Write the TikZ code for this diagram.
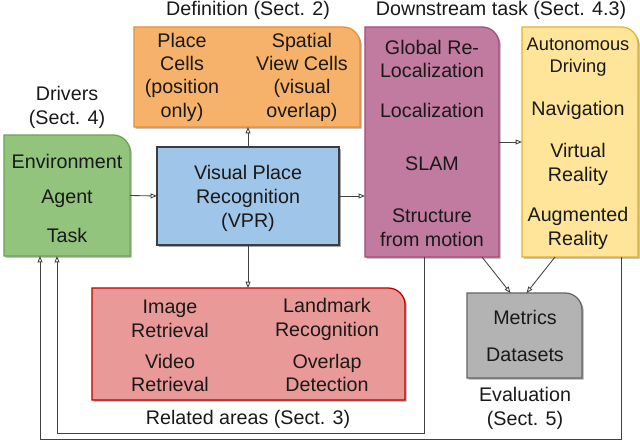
\documentclass[tikz,border=0pt]{standalone}
\usepackage{fontspec}
\setmainfont{Liberation Sans}
\usetikzlibrary{calc}
\usetikzlibrary{arrows.meta}
\usetikzlibrary{backgrounds}
\tikzset{>=latex}
\definecolor{drvfill}{HTML}{93C47D}
\definecolor{drvline}{HTML}{6AA84F}
\definecolor{vprfill}{HTML}{9FC5E8}
\definecolor{vprline}{HTML}{3C3C3C}
\definecolor{deffill}{HTML}{F6B26B}
\definecolor{defline}{HTML}{E69138}
\definecolor{taskfill}{HTML}{C27BA0}
\definecolor{taskline}{HTML}{A64D79}
\definecolor{appfill}{HTML}{FFE599}
\definecolor{appline}{HTML}{E1B530}
\definecolor{relfill}{HTML}{EA9999}
\definecolor{relline}{HTML}{C00000}
\definecolor{evalfill}{HTML}{B3B3B3}
\definecolor{evalline}{HTML}{666666}
\tikzstyle{area}=[inner sep=0,outer sep=0]
\tikzstyle{txt}=[align=center,inner sep=0,text=black!90,
                 font=\fontsize{14}{17}\selectfont]
\tikzstyle{small txt}=[txt,font=\fontsize{13}{15.8}\selectfont]
\tikzstyle{link}=[-{Triangle[open,length=4.5pt,width=3.5pt]},draw=black!75,line width=0.6]
% box with one round corner (top right)
\newcommand{\tabshape}[1]{(#1.south west) -- (#1.north west) -- ($(#1.north east)+(-12pt,0)$)
  arc[start angle=90,end angle=0,radius=12pt] -- (#1.south east) -- cycle}

\begin{document}
\begin{tikzpicture}[x=0.025cm,y=-0.025cm]

  \useasboundingbox (0,0) rectangle (640,440);

  % BOXES
  \node[area,minimum width=3.15cm,minimum height=3.025cm] (drivers) at (67,195.5) {};
  \node[area,minimum width=4.55cm,minimum height=2.45cm] (vpr) at (248,196) {};
  \node[area,minimum width=5.65cm,minimum height=2.5cm] (def) at (247,77) {};
  \node[area,minimum width=3.35cm,minimum height=5.75cm] (task) at (432,142) {};
  \node[area,minimum width=2.9cm,minimum height=5.75cm] (app) at (580,142) {};
  \node[area,minimum width=7.825cm,minimum height=2.8cm] (rel) at (248.5,344) {};
  \node[area,minimum width=2.875cm,minimum height=2.125cm] (eval) at (524.5,335.5) {};

  \begin{scope}[on background layer]
    \foreach \b/\fc/\dc in {drivers/drvfill/drvline,def/deffill/defline,
        task/taskfill/taskline,app/appfill/appline,rel/relfill/relline,
        eval/evalfill/evalline}{
      \fill[black!35,transform canvas={shift={(1.2pt,-1.2pt)}}] \tabshape{\b};
      \draw[\dc,fill=\fc,line width=0.9] \tabshape{\b};
    }
    \fill[black!35,transform canvas={shift={(1.2pt,-1.2pt)}}]
         (vpr.south west) rectangle (vpr.north east);
    \draw[vprline,fill=vprfill,line width=0.9] (vpr.south west) rectangle (vpr.north east);
  \end{scope}

  % LABELS
  \node[txt] (drvlbl) at (67,107) {Drivers\\(Sect. 4)};
  \node[txt] (deflbl) at (248,10.5) {Definition (Sect. 2)};
  \node[txt] (dslbl) at (501,10.5) {Downstream task (Sect. 4.3)};
  \node[txt] (rellbl) at (248,419.5) {Related areas (Sect. 3)};
  \node[txt] (evallbl) at (525,408.5) {Evaluation\\(Sect. 5)};

  % CONTENTS
  \node[txt] (vprtxt) at (248,198) {Visual Place\\Recognition\\(VPR)};

  \node[txt] (env) at (67,161.5) {Environment};
  \node[txt] (agent) at (67,198.5) {Agent};
  \node[txt] (tsk) at (67,235.5) {Task};

  \node[txt,font=\fontsize{14}{16.6}\selectfont] (place) at (182,77) {Place\\Cells\\(position\\only)};
  \node[txt,font=\fontsize{14}{16.6}\selectfont] (view) at (302,77) {Spatial\\View Cells\\(visual\\overlap)};

  \node[txt] (glob) at (432,59) {Global Re-\\Localization};
  \node[txt] (loc) at (432,110) {Localization};
  \node[txt] (slam) at (432,164) {SLAM};
  \node[txt] (sfm) at (432,228) {Structure\\from motion};

  \node[small txt] (auto) at (578,57) {Autonomous\\Driving};
  \node[txt] (nav) at (578,110) {Navigation};
  \node[txt] (vr) at (578,164) {Virtual\\Reality};
  \node[txt] (ar) at (578,228) {Augmented\\Reality};

  \node[txt] (img) at (170,319) {Image\\Retrieval};
  \node[txt] (lmk) at (327,319) {Landmark\\Recognition};
  \node[txt] (vid) at (170,373) {Video\\Retrieval};
  \node[txt] (ovl) at (327,373) {Overlap\\Detection};

  \node[txt] (met) at (525,317) {Metrics};
  \node[txt] (data) at (525,355) {Datasets};

  % ARROWS
  \draw[link] (drivers.east) -- (vpr.west);
  \draw[link] (vpr.north) -- (vpr.north |- def.south);
  \draw[link] (vpr.south) -- (vpr.south |- rel.north);
  \draw[link] (vpr.east) -- (vpr.east -| task.west);
  \draw[link] (task.east) -- (app.west);
  \draw[link] ($(task.south east)+(-17,0)$) -- ($(eval.north)+(-14,0)$);
  \draw[link] ($(app.south)+(-25,0)$) -- ($(eval.north)+(2,0)$);

  % FEEDBACK
  \draw[link] ($(task.south)+(-8,0)$) -- ++(0,176) -| ($(drivers.south)+(-10,0)$);
  \draw[link] ($(app.south east)+(-17,0)$) -- ++(0,182) -| ($(drivers.south)+(-27,0)$);

\end{tikzpicture}
\end{document}
